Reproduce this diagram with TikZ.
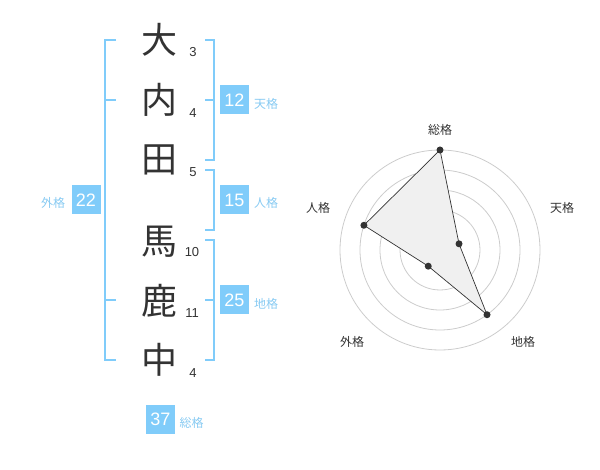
\documentclass[tikz,border=0pt]{standalone}
\usepackage{fontspec}
\setmainfont{Liberation Sans}
\newfontfamily\jp{Noto Sans CJK JP}
\definecolor{bl}{RGB}{128,204,250}
\definecolor{lbl}{RGB}{135,202,242}
\definecolor{ink}{RGB}{51,51,51}
\definecolor{ring}{RGB}{204,204,204}
\definecolor{polyfill}{RGB}{240,240,240}
\tikzset{
  kanji/.style={font=\jp\fontsize{36}{36}\selectfont, text=ink, inner sep=0pt},
  stroke/.style={font=\fontsize{13}{13}\selectfont, text=ink, inner sep=0pt},
  numbox/.style={fill=bl, text=white, minimum size=29pt, inner sep=0pt, font=\fontsize{18}{18}\selectfont},
  kakulbl/.style={font=\jp\fontsize{12}{12}\selectfont, text=lbl, inner sep=0pt},
  radlbl/.style={font=\jp\fontsize{12}{12}\selectfont, text=ink, inner sep=0pt},
  brk/.style={draw=bl, line width=2pt},
  ringst/.style={draw=ring, line width=0.8pt},
  dot/.style={circle, fill=ink, minimum size=7pt, inner sep=0pt},
}
\begin{document}
\begin{tikzpicture}[x=1pt,y=-1pt]
\useasboundingbox (0,0) rectangle (600,470);
% kanji
\node[kanji] (k1) at (159,40) {大};
\node[kanji] (k2) at (159,100) {内};
\node[kanji] (k3) at (159,160) {田};
\node[kanji] (k4) at (159,242) {馬};
\node[kanji] (k5) at (159,301) {鹿};
\node[kanji] (k6) at (159,360) {中};
% stroke counts
\node[stroke] (s1) at (193,52) {3};
\node[stroke] (s2) at (193,113) {4};
\node[stroke] (s3) at (193,172.5) {5};
\node[stroke] (s4) at (192,252) {10};
\node[stroke] (s5) at (192,313) {11};
\node[stroke] (s6) at (193,373) {4};
% brackets
\draw[brk] (116,40) -- (105,40) -- (105,360) -- (116,360);
\draw[brk] (105,100) -- (116,100);
\draw[brk] (105,300) -- (116,300);
\draw[brk] (205,40) -- (214,40) -- (214,160) -- (205,160);
\draw[brk] (214,100) -- (205,100);
\draw[brk] (205,170) -- (214,170) -- (214,230) -- (205,230);
\draw[brk] (205,240) -- (214,240) -- (214,360) -- (205,360);
\draw[brk] (214,300) -- (205,300);
% boxes
\node[numbox] (b22) at (86,200) {22};
\node[kakulbl] (l22) at (53,203) {外格};
\node[numbox] (b12) at (234.5,100) {12};
\node[kakulbl] (l12) at (266,103.5) {天格};
\node[numbox] (b15) at (234.5,200) {15};
\node[kakulbl] (l15) at (266,203) {人格};
\node[numbox] (b25) at (234.5,300) {25};
\node[kakulbl] (l25) at (266,303.5) {地格};
\node[numbox] (b37) at (160.5,419) {37};
\node[kakulbl] (l37) at (191.5,422.5) {総格};
% radar
\foreach \r in {20,40,60,80,100} \draw[ringst] (440,250) circle (\r);
\node[circle, fill=ring, minimum size=7pt, inner sep=0pt] (ctr) at (440,250) {};
\coordinate (pS) at ({440+100*cos(90)},{250-100*sin(90)});
\coordinate (pT) at ({440+20*cos(18)},{250-20*sin(18)});
\coordinate (pC) at ({440+80*cos(-54)},{250-80*sin(-54)});
\coordinate (pG) at ({440+20*cos(-126)},{250-20*sin(-126)});
\coordinate (pJ) at ({440+80*cos(162)},{250-80*sin(162)});
\draw[fill=polyfill, draw=ink, line width=0.7pt] (pS) -- (pT) -- (pC) -- (pG) -- (pJ) -- cycle;
\foreach \p in {pS,pT,pC,pG,pJ} \node[dot] at (\p) {};
\node[radlbl] (rS) at (440,130) {総格};
\node[radlbl] (rT) at (562,208) {天格};
\node[radlbl] (rJ) at (318,208) {人格};
\node[radlbl] (rG) at (352,342) {外格};
\node[radlbl] (rC) at (523,342) {地格};
\end{tikzpicture}
\end{document}
